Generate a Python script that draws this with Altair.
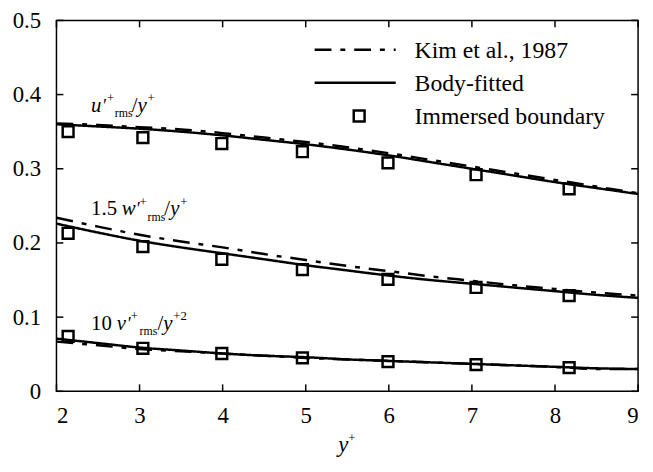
import altair as alt
import pandas as pd

# ---------------- data ----------------
x_line = [2, 2.5, 3, 3.5, 4, 4.5, 5, 5.5, 6, 6.5, 7, 7.5, 8, 8.5, 9]
u_bf = [0.360, 0.357, 0.354, 0.350, 0.345, 0.339, 0.333, 0.326, 0.318, 0.309, 0.300, 0.291, 0.282, 0.274, 0.266]
u_kim = [0.361, 0.359, 0.356, 0.353, 0.348, 0.342, 0.336, 0.329, 0.321, 0.312, 0.303, 0.294, 0.285, 0.276, 0.267]
w_bf = [0.226, 0.214, 0.203, 0.194, 0.186, 0.178, 0.170, 0.163, 0.156, 0.150, 0.145, 0.140, 0.135, 0.130, 0.126]
w_kim = [0.234, 0.222, 0.211, 0.202, 0.194, 0.185, 0.177, 0.169, 0.162, 0.155, 0.149, 0.143, 0.138, 0.133, 0.129]
v_bf = [0.071, 0.065, 0.059, 0.055, 0.051, 0.048, 0.046, 0.043, 0.041, 0.039, 0.037, 0.035, 0.033, 0.031, 0.030]
v_kim = [0.067, 0.062, 0.057, 0.054, 0.051, 0.048, 0.045, 0.043, 0.041, 0.039, 0.037, 0.035, 0.033, 0.030, 0.030]

x_ib = [2.14, 3.04, 3.99, 4.96, 5.99, 7.05, 8.17]
u_ib = [0.350, 0.342, 0.334, 0.323, 0.308, 0.292, 0.273]
w_ib = [0.213, 0.195, 0.178, 0.164, 0.151, 0.140, 0.129]
v_ib = [0.074, 0.058, 0.051, 0.045, 0.040, 0.036, 0.032]

x_ticks = [2, 3, 4, 5, 6, 7, 8, 9]
y_ticks = [0, 0.1, 0.2, 0.3, 0.4, 0.5]
legend_labels = ["Kim et al., 1987", "Body-fitted", "Immersed boundary"]
legend_keys = ["Kim", "BF", "IB"]

# ---------------- layout / style ----------------
W, H = 588, 375
FONT = "Liberation Serif"
TICK = 7

xs = alt.Scale(domain=[2, 9], nice=False, zero=False)
ys = alt.Scale(domain=[0, 0.5], nice=False, zero=False)
x_axis = alt.Axis(values=x_ticks, ticks=False, domain=False, grid=False, title=None,
                  labelFont=FONT, labelFontSize=23, labelColor="black", labelPadding=14)
y_axis = alt.Axis(values=y_ticks, ticks=False, domain=False, grid=False, title=None,
                  labelFont=FONT, labelFontSize=23, labelColor="black", labelPadding=16,
                  labelExpr="datum.value == 0 ? '0' : format(datum.value, '.1f')")
X = alt.X("x:Q", scale=xs, axis=x_axis)
Y = alt.Y("y:Q", scale=ys, axis=y_axis)

dash_scale = alt.Scale(domain=["Kim", "BF"], range=[[17, 9, 5, 9], [1, 0]])

rows = []
for name, bf, kim in [("u", u_bf, u_kim), ("w", w_bf, w_kim), ("v", v_bf, v_kim)]:
    for xv, a, b in zip(x_line, bf, kim):
        rows.append({"x": xv, "y": a, "curve": name + "BF", "src": "BF"})
        rows.append({"x": xv, "y": b, "curve": name + "Kim", "src": "Kim"})
lines_df = pd.DataFrame(rows)

ib_df = pd.DataFrame(
    [{"x": xv, "y": yv} for ser in (u_ib, w_ib, v_ib) for xv, yv in zip(x_ib, ser)]
)

lines = alt.Chart(lines_df).mark_line(strokeWidth=2.5, color="black", interpolate="monotone").encode(
    x=X, y=Y, detail="curve:N",
    strokeDash=alt.StrokeDash("src:N", scale=dash_scale, legend=None),
)
squares = alt.Chart(ib_df).mark_point(shape="square", filled=False, size=120,
                                      strokeWidth=2.5, color="black", opacity=1).encode(x=X, y=Y)

# inward ticks on all four sides
xt = pd.DataFrame({"x": x_ticks})
yt = pd.DataFrame({"y": y_ticks})
tick_style = dict(color="black", strokeWidth=1.5)
ticks = [
    alt.Chart(xt).mark_rule(**tick_style).encode(x=X, y=alt.value(H), y2=alt.value(H - TICK)),
    alt.Chart(xt).mark_rule(**tick_style).encode(x=X, y=alt.value(0), y2=alt.value(TICK)),
    alt.Chart(yt).mark_rule(**tick_style).encode(y=Y, x=alt.value(0), x2=alt.value(TICK)),
    alt.Chart(yt).mark_rule(**tick_style).encode(y=Y, x=alt.value(W), x2=alt.value(W - TICK)),
]

# curve annotations: (anchor x, anchor y, pieces)
# piece = (text, dx, dy, fontSize, italic)
M, SUP, SUB = 21, 13, 12
annotations = [
    (2.417, 0.376, [("u", 0, 0, M, True), ("′", 11, 0, 18, True), ("+", 16, -10, SUP, False),
                    ("rms", 24, 5, SUB, False), ("/", 41, 0, M, False), ("y", 47, 0, M, True),
                    ("+", 57, -10, SUP, False)]),
    (2.417, 0.237, [("1.5", 0, 0, M, False), ("w", 31, 0, M, True), ("′", 45, 0, 18, True),
                    ("+", 49, -10, SUP, False), ("rms", 57, 6, SUB, False), ("/", 74, 0, M, False),
                    ("y", 80, 0, M, True), ("+", 90, -10, SUP, False)]),
    (2.417, 0.083, [("10", 0, 0, M, False), ("v", 26, 0, M, True), ("′", 36, 0, 18, True),
                    ("+", 40, -10, SUP, False), ("rms", 49, 5, SUB, False), ("/", 67, 0, M, False),
                    ("y", 73, 0, M, True), ("+2", 83, -10, SUP, False)]),
]
ann_layers = []
for ax, ay, pieces in annotations:
    adf = pd.DataFrame({"x": [ax], "y": [ay]})
    for txt, dx, dy, fs, it in pieces:
        ann_layers.append(
            alt.Chart(adf).mark_text(text=txt, dx=dx, dy=dy, fontSize=fs, font=FONT,
                                     fontStyle="italic" if it else "normal",
                                     align="left", baseline="alphabetic", color="black")
            .encode(x=X, y=Y)
        )

# legend (placed inside the plot in data coordinates)
leg_x0, leg_x1, leg_sym, leg_txt = 5.107, 6.083, 5.643, 6.31
leg_y0, leg_step = 0.4605, 0.0447
leg_rows = [{"x": leg_x0, "x2": leg_x1, "y": leg_y0 - i * leg_step, "src": k}
            for i, k in enumerate(legend_keys[:2])]
leg_lines = alt.Chart(pd.DataFrame(leg_rows)).mark_rule(strokeWidth=2.5, color="black").encode(
    x=X, x2="x2:Q", y=Y, strokeDash=alt.StrokeDash("src:N", scale=dash_scale, legend=None)
)
leg_sq = alt.Chart(pd.DataFrame({"x": [leg_sym], "y": [leg_y0 - 2 * leg_step]})).mark_point(
    shape="square", filled=False, size=120, strokeWidth=2.5, color="black", opacity=1
).encode(x=X, y=Y)
leg_text = alt.Chart(pd.DataFrame({"x": [leg_txt] * 3,
                                   "y": [leg_y0 - i * leg_step for i in range(3)],
                                   "t": legend_labels})).mark_text(
    font=FONT, fontSize=24, align="left", baseline="alphabetic", dy=8, color="black"
).encode(x=X, y=Y, text="t:N")

# x axis title  y+
title_df = pd.DataFrame({"t": ["y"]})
xtitle = [
    alt.Chart(title_df).mark_text(text="y", font=FONT, fontSize=23, fontStyle="italic",
                                  align="left", baseline="alphabetic", color="black")
    .encode(x=alt.value(W / 2 - 9), y=alt.value(H + 61)),
    alt.Chart(title_df).mark_text(text="+", font=FONT, fontSize=SUP,
                                  align="left", baseline="alphabetic", color="black")
    .encode(x=alt.value(W / 2 + 1), y=alt.value(H + 51)),
]

chart = alt.layer(lines, squares, *ticks, *ann_layers, leg_lines, leg_sq, leg_text, *xtitle).properties(
    width=W, height=H,
    padding={"left": 49, "top": 10, "right": 7, "bottom": 75},
    autosize=alt.AutoSizeParams(type="none"),
).configure_view(stroke="black", strokeWidth=1.5)

chart.save("out.html", embed_options={"renderer": "svg", "actions": False})
